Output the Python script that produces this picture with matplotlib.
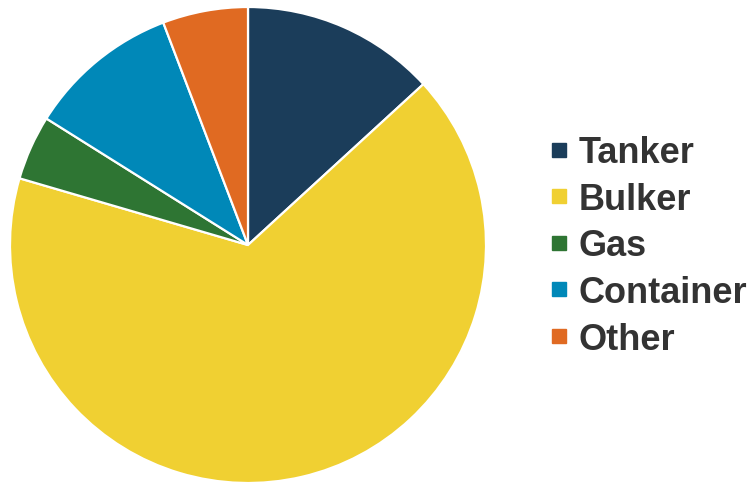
import matplotlib
matplotlib.use("Agg")
import matplotlib.pyplot as plt
from matplotlib.lines import Line2D

plt.rcParams["font.family"] = ["Liberation Sans", "DejaVu Sans"]

# 선박 종류별 비중 (%)
labels = ["Tanker", "Bulker", "Gas", "Container", "Other"]
shares = [13.2, 66.4, 4.4, 10.3, 5.8]
colors = ["#1B3D5A", "#F0D032", "#2E7533", "#0088B8", "#E06A22"]

fig = plt.figure(figsize=(7.53, 4.85), dpi=100)
ax = fig.add_axes([10 / 753, 1 / 485, 476 / 753, 476 / 485])
ax.pie(shares, colors=colors, startangle=90, counterclock=False,
       wedgeprops=dict(edgecolor="white", linewidth=1.6))
ax.set_xlim(-1.0, 1.0)
ax.set_ylim(-1.0, 1.0)
ax.set_aspect("equal")

handles = [Line2D([0], [0], marker="s", linestyle="none", markersize=9.5,
                  markerfacecolor=c, markeredgecolor=c) for c in colors]
leg = fig.legend(handles, labels, loc="center left",
                 bbox_to_anchor=(551 / 753, 1 - 247 / 485),
                 frameon=False, prop=dict(size=26, weight="bold"),
                 labelcolor="#333333", handlelength=0.47, handletextpad=0.3,
                 labelspacing=0.32, borderpad=0, borderaxespad=0)

fig.savefig("out.png", dpi=100)
